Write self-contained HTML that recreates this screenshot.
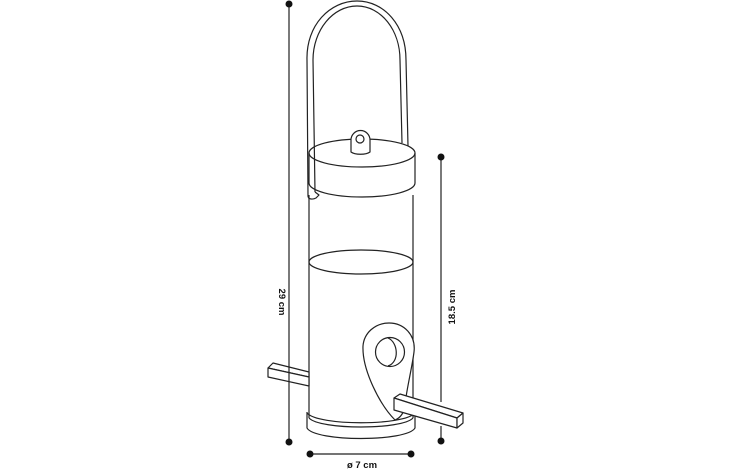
<!DOCTYPE html>
<html><head><meta charset="utf-8"><style>
html,body{margin:0;padding:0;background:#fff;}
svg{display:block;}
text{font-family:"Liberation Sans",sans-serif;font-weight:bold;font-size:9.5px;fill:#111;}
</style></head><body>
<svg width="730" height="470" viewBox="0 0 730 470" xmlns="http://www.w3.org/2000/svg">
<g fill="none" stroke="#222" stroke-width="1.2" stroke-linejoin="round">
<!-- lid -->
<ellipse cx="362" cy="153" rx="53" ry="14" fill="#fff"/>
<path d="M309,153 L309,183 A53,14 0 0 0 415,183 L415,153"/>
<!-- handle -->
<path d="M308,196 L307,60 C306,25 330,1 357,1 C384,1 406,25 406,60 L408,146"/>
<path d="M315,192 L313,60 C313,30 333,6 357,6 C381,6 400,30 400,60 L402,143"/>
<path d="M308,196 C308,199 312,200 316,198 L319,195 L315,192"/>
<!-- lid ring -->
<path d="M351,152 L351,140 A9.5,9.5 0 0 1 370,140 L370,152 C366,155 355,155 351,152 Z" fill="#fff"/>
<circle cx="360" cy="139" r="4"/>
<!-- tube -->
<line x1="309" y1="195" x2="309" y2="418"/>
<line x1="413" y1="195" x2="413" y2="418"/>
<ellipse cx="361" cy="262" rx="52" ry="12"/>
<!-- base -->
<path d="M307,412 L307,428 C315,442 407,442 415,428 L415,412"/>
<path d="M307,413 C318,426 404,426 415,413"/>
<path d="M309,418 C320,430 402,430 413,418"/>
<!-- port -->
<path d="M395,420 C380,405 362,370 363,346 C364,333 375,323 389,323 C404,323 416,335 414,352 C412,368 406,392 405,405 C404,413 400,418 395,420 Z" fill="#fff"/>
<circle cx="390" cy="352" r="14.5"/>
<path d="M388,338 C398,342 400,362 388,366"/>
<!-- left perch -->
<path d="M268,368 L273,363 L309,372 L309,377 Z" fill="#fff"/>
<path d="M268,368 L309,377 L309,386 L268,377 Z" fill="#fff"/>
<!-- right perch -->
<path d="M394,398 L400,394 L463,413 L457,418 Z" fill="#fff"/>
<path d="M394,398 L457,418 L457,428 L394,410 Z" fill="#fff"/>
<path d="M457,418 L463,413 L463,423 L457,428 Z" fill="#fff"/>
</g>
<!-- dimension lines -->
<g stroke="#222" stroke-width="1.2">
<line x1="289" y1="4" x2="289" y2="442"/>
<line x1="441" y1="157" x2="441" y2="402"/>
<line x1="441" y1="426" x2="441" y2="442"/>
<line x1="310" y1="454" x2="411" y2="454"/>
</g>
<g fill="#111">
<circle cx="289" cy="4" r="3.5"/><circle cx="289" cy="442" r="3.5"/>
<circle cx="441" cy="157" r="3.5"/><circle cx="441" cy="441" r="3.5"/>
<circle cx="310" cy="454" r="3.5"/><circle cx="411" cy="454" r="3.5"/>
</g>
<text x="362" y="468" text-anchor="middle">ø 7 cm</text>
<text transform="translate(279,302) rotate(90)" text-anchor="middle">29 cm</text>
<text transform="translate(455,307) rotate(-90)" text-anchor="middle">18.5 cm</text>
</svg>
</body></html>
